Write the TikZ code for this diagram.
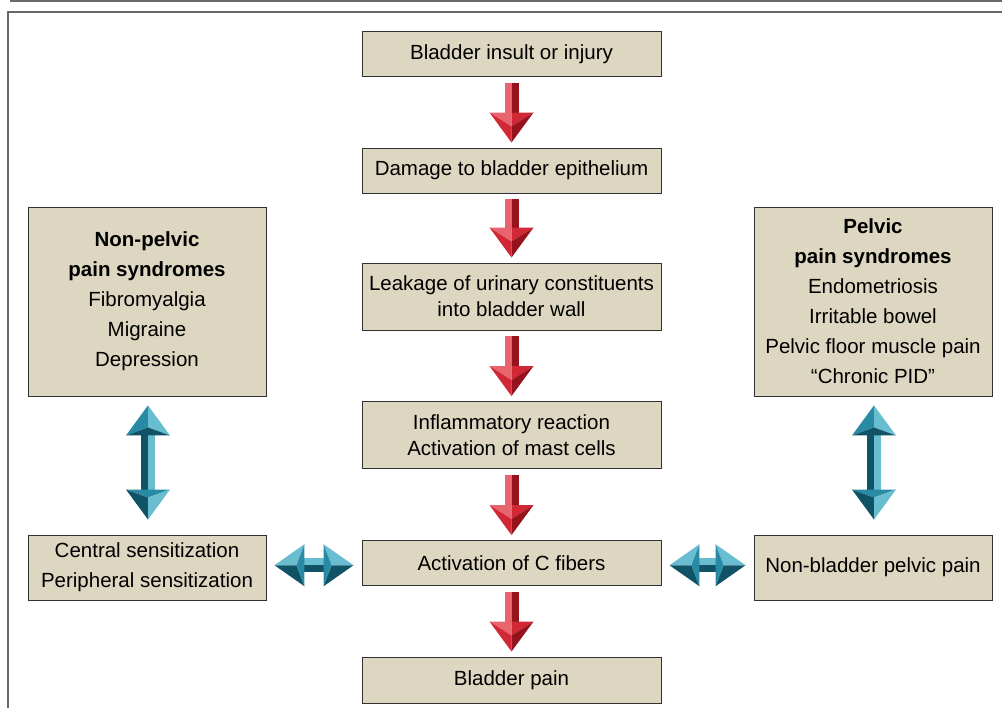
\documentclass[tikz,border=0pt]{standalone}
\usepackage{fontspec}
\setmainfont{Liberation Sans}
\usetikzlibrary{calc}
\definecolor{panel}{RGB}{221,215,193}
\definecolor{boxline}{RGB}{50,50,50}
\definecolor{framegray}{RGB}{105,105,105}
\definecolor{redlite}{RGB}{232,100,110}
\definecolor{redmid}{RGB}{208,40,52}
\definecolor{reddark}{RGB}{150,18,28}
\definecolor{teallite}{RGB}{104,190,208}
\definecolor{tealmid}{RGB}{40,138,164}
\definecolor{tealdark}{RGB}{16,82,102}
\newcommand{\redarrow}[2]{%
  \path ($(#1.south)+(0,6)$) coordinate (t) ($(#2.north)+(0,-5)$) coordinate (p);
  \fill[redlite] ($(t)+(-7,0)$) -- (t) -- ($(p)+(0,-30)$) -- ($(p)+(-7,-30)$) -- cycle;
  \fill[reddark] (t) -- ($(t)+(7,0)$) -- ($(p)+(7,-30)$) -- ($(p)+(0,-30)$) -- cycle;
  \fill[redlite] ($(p)+(-22,-30)$) -- ($(p)+(0,-30)$) -- ($(p)+(0,-16)$) -- cycle;
  \fill[redmid] ($(p)+(0,-30)$) -- ($(p)+(22,-30)$) -- ($(p)+(0,-16)$) -- cycle;
  \fill[redmid] ($(p)+(-22,-30)$) -- ($(p)+(0,-16)$) -- (p) -- cycle;
  \fill[reddark] ($(p)+(22,-30)$) -- ($(p)+(0,-16)$) -- (p) -- cycle;
}
\newcommand{\tealvert}[2]{%
  \path ($(#1.south)+(1,9)$) coordinate (t) ($(#2.north)+(1,-15)$) coordinate (p);
  \fill[tealdark] ($(t)+(-7,30)$) -- ($(t)+(0,30)$) -- ($(p)+(0,-30)$) -- ($(p)+(-7,-30)$) -- cycle;
  \fill[teallite] ($(t)+(0,30)$) -- ($(t)+(7,30)$) -- ($(p)+(7,-30)$) -- ($(p)+(0,-30)$) -- cycle;
  \fill[tealmid] (t) -- ($(t)+(-22,30)$) -- ($(t)+(0,22)$) -- cycle;
  \fill[teallite] (t) -- ($(t)+(22,30)$) -- ($(t)+(0,22)$) -- cycle;
  \fill[tealdark] ($(t)+(-22,30)$) -- ($(t)+(0,22)$) -- ($(t)+(22,30)$) -- cycle;
  \fill[tealmid] ($(p)+(-22,-30)$) -- ($(p)+(0,-22)$) -- ($(p)+(22,-30)$) -- cycle;
  \fill[tealdark] ($(p)+(-22,-30)$) -- ($(p)+(0,-22)$) -- (p) -- cycle;
  \fill[teallite] ($(p)+(22,-30)$) -- ($(p)+(0,-22)$) -- (p) -- cycle;
}
\newcommand{\tealhoriz}[2]{%
  \path ($(#1.east)!.5!(#2.west)$) coordinate (m);
  \path ($(#1.east |- m)+(8,0)$) coordinate (t) ($(#2.west |- m)+(-8,0)$) coordinate (p);
  \fill[teallite] ($(t)+(30,-7)$) -- ($(p)+(-30,-7)$) -- ($(p)+(-30,0)$) -- ($(t)+(30,0)$) -- cycle;
  \fill[tealdark] ($(t)+(30,0)$) -- ($(p)+(-30,0)$) -- ($(p)+(-30,7)$) -- ($(t)+(30,7)$) -- cycle;
  \fill[teallite] (t) -- ($(t)+(30,-21)$) -- ($(t)+(22,0)$) -- cycle;
  \fill[tealdark] (t) -- ($(t)+(30,21)$) -- ($(t)+(22,0)$) -- cycle;
  \fill[tealmid] ($(t)+(30,-21)$) -- ($(t)+(22,0)$) -- ($(t)+(30,21)$) -- cycle;
  \fill[teallite] (p) -- ($(p)+(-30,-21)$) -- ($(p)+(-22,0)$) -- cycle;
  \fill[tealdark] (p) -- ($(p)+(-30,21)$) -- ($(p)+(-22,0)$) -- cycle;
  \fill[tealmid] ($(p)+(-30,-21)$) -- ($(p)+(-22,0)$) -- ($(p)+(-30,21)$) -- cycle;
}

\begin{document}
\begin{tikzpicture}[x=1pt,y=-1pt,
  stage/.style={draw=boxline,line width=0.9pt,fill=panel,minimum width=299pt,
    minimum height=45pt,align=center,inner sep=0pt,font=\fontsize{20.5}{26}\selectfont},
  side/.style={stage,minimum width=238pt,font=\fontsize{20.5}{30}\selectfont}]
  \useasboundingbox (0,0) rectangle (1002,708);
  \draw[framegray,line width=1.5pt] (10,1.2) -- (1002,1.2);
  \draw[framegray,line width=1.5pt] (8,708) -- (8,12) -- (1002,12);

  \node[stage] (b1) at (511.5,54) {Bladder insult or injury};
  \node[stage] (b2) at (511.5,170.5) {Damage to bladder epithelium};
  \node[stage,minimum height=67pt] (b3) at (511.5,296.5) {Leakage of urinary constituents\\into bladder wall};
  \node[stage,minimum height=67pt] (b4) at (511.5,435) {Inflammatory reaction\\Activation of mast cells};
  \node[stage] (b5) at (511.5,563) {Activation of C fibers};
  \node[stage,minimum height=46pt] (b6) at (511.5,680) {Bladder pain};

  \node[side,minimum height=189pt] (lt) at (147,301.5) {\textbf{Non-pelvic}\\\textbf{pain syndromes}\\Fibromyalgia\\Migraine\\Depression};
  \node[side,minimum height=65pt] (lb) at (147,567.5) {Central sensitization\\Peripheral sensitization};
  \node[side,minimum height=189pt] (rt) at (873,301.5) {\textbf{Pelvic}\\\textbf{pain syndromes}\\Endometriosis\\Irritable bowel\\Pelvic floor muscle pain\\``Chronic PID''};
  \node[side,minimum height=65pt] (rb) at (873,567.5) {Non-bladder pelvic pain};

  \redarrow{b1}{b2}
  \redarrow{b2}{b3}
  \redarrow{b3}{b4}
  \redarrow{b4}{b5}
  \redarrow{b5}{b6}
  \tealvert{lt}{lb}
  \tealvert{rt}{rb}
  \tealhoriz{lb}{b5}
  \tealhoriz{b5}{rb}
\end{tikzpicture}
\end{document}
